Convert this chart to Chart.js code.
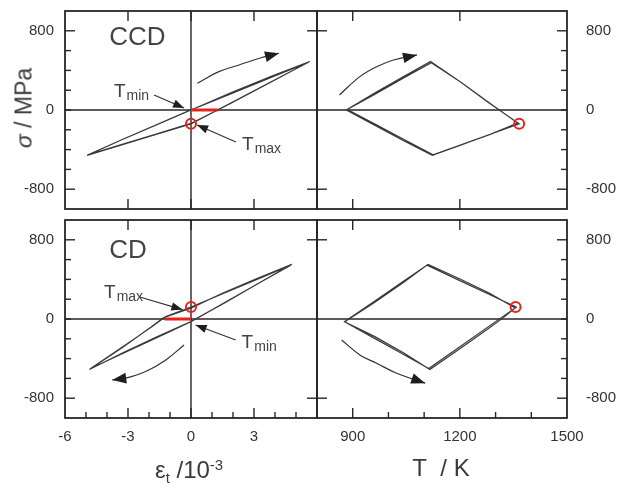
<!DOCTYPE html>
<html>
<head>
<meta charset="utf-8">
<title>CCD / CD hysteresis</title>
<script src="https://cdn.jsdelivr.net/npm/chart.js@4.4.1/dist/chart.umd.min.js"></script>
<style>
  body { margin: 0; background: #fff; }
  #wrap { position: relative; width: 620px; height: 488px; overflow: hidden; }
  #wrap canvas { position: absolute; left: 0; top: 0; }
  .title {
    position: absolute; white-space: nowrap; line-height: 1;
    font-family: "Liberation Sans", Arial, sans-serif; color: #3a3a3a;
    transform: translate(-50%, -50%);
  }
  .title sub { font-size: 0.62em; vertical-align: -0.35em; }
  .title sup { font-size: 0.62em; vertical-align: 0.55em; }
</style>
</head>
<body>
<div id="wrap">
  <canvas id="tl" width="620" height="488"></canvas>
  <canvas id="tr" width="620" height="488"></canvas>
  <canvas id="bl" width="620" height="488"></canvas>
  <canvas id="br" width="620" height="488"></canvas>
  <div class="title" style="left:24px;top:108px;font-size:23px;transform:translate(-50%,-50%) rotate(-90deg)"><i>σ</i> / MPa</div>
  <div class="title" style="left:189px;top:472px;font-size:24px">ε<sub>t</sub> /10<sup>-3</sup></div>
  <div class="title" style="left:441px;top:468px;font-size:24px">T&nbsp; / K</div>
</div>

<script>
// tick labels
const sigTicks = [-800, 0, 800];
const epsTicks = [-6, -3, 0, 3];
const tempTicks = [900, 1200, 1500];

// CCD (top row): temperature, total strain, stress -- two cycles
const ccdT   = [882, 960, 1040, 1120, 1200, 1280, 1366, 1280, 1200, 1123, 1040, 960, 882,
                965, 1045, 1118, 1205, 1285, 1362, 1285, 1205, 1125, 1045, 965, 885];
const ccdEps = [0, 1.80, 3.70, 5.55, 3.84, 1.94, 0, -1.74, -3.38, -4.95, -3.35, -1.65, 0,
                1.95, 3.85, 5.65, 3.75, 1.88, 0.04, -1.70, -3.32, -4.90, -3.30, -1.62, 0.02];
const ccdSig = [0, 155, 318, 478, 287, 76, -140, -252, -357, -458, -305, -150, 0,
                178, 342, 490, 276, 66, -132, -246, -350, -452, -300, -146, 4];

// CD (bottom row)
const cdT   = [877, 960, 1040, 1113, 1200, 1280, 1320, 1358, 1280, 1200, 1108, 1040, 960, 877,
               962, 1042, 1116, 1203, 1283, 1322, 1355, 1282, 1202, 1111, 1042, 962, 880];
const cdEps = [0, -1.68, -3.30, -4.78, -3.25, -1.85, -1.20, 0, 1.48, 3.00, 4.75, 3.35, 1.71, 0,
               -1.60, -3.22, -4.84, -3.30, -1.95, -1.30, 0.02, 1.52, 3.05, 4.80, 3.28, 1.64, 0.02];
const cdSig = [-27, -193, -354, -500, -280, -77, 24, 120, 252, 388, 544, 376, 178, -27,
               -178, -340, -510, -292, -88, 14, 112, 262, 402, 552, 368, 168, -22];

// Tmax markers and zero-stress strain offsets
const ccdTmax = {T: 1366, eps: 0, sig: -140};
const cdTmax  = {T: 1356, eps: 0, sig: 122};
const ccdOffsetEps = [0, 1.3];
const cdOffsetEps  = [-1.25, 0];

// direction arrows (curved)
const ccdArrowEps = [0.30, 1.30, 2.29, 3.30, 4.19];
const ccdArrowSig = [270, 385, 455, 525, 573];
const ccdArrowT   = [863, 920, 967, 1014, 1080];
const ccdArrowTS  = [152, 337, 437, 505, 556];
const cdArrowEps  = [-0.33, -1.20, -2.16, -3.11, -3.75];
const cdArrowSig  = [-262, -413, -531, -598, -615];
const cdArrowT    = [869, 920, 967, 1023, 1103];
const cdArrowTS   = [-212, -363, -447, -548, -648];

// Tmin / Tmax pointers
const ccdMinPtr = {x: [-1.76, -0.33], y: [152, 20]};
const ccdMaxPtr = {x: [2.14, 0.29], y: [-323, -152]};
const cdMaxPtr  = {x: [-2.48, -0.41], y: [225, 95]};
const cdMinPtr  = {x: [2.13, 0.22], y: [-212, -60]};

const INK = '#3a3a3a';
const RED = '#e3231c';
const FONT = '"Liberation Sans", Arial, sans-serif';

function pts(xs, ys) {
  return xs.map((v, i) => ({x: v, y: ys[i]}));
}
function loop(xs, ys) {
  return {data: pts(xs, ys), showLine: true, borderColor: INK, borderWidth: 1.2, pointRadius: 0, tension: 0};
}
function arrow(xs, ys, size, tension) {
  return {data: pts(xs, ys), showLine: true, borderColor: '#333', borderWidth: 1.2, pointRadius: 0,
          tension: tension, arrow: size};
}
function redCircle(x, y) {
  return {data: [{x: x, y: y}], showLine: false, pointRadius: 5, pointBorderWidth: 2,
          pointBorderColor: RED, pointBackgroundColor: 'transparent'};
}
function redBar(xs) {
  return {data: pts(xs, [0, 0]), showLine: true, borderColor: RED, borderWidth: 3, pointRadius: 0};
}

const frame = {
  id: 'frame',
  beforeDatasetsDraw(chart, args, o) {
    const {ctx, chartArea: a, scales: {x, y}} = chart;
    const seg = (x1, y1, x2, y2) => { ctx.beginPath(); ctx.moveTo(x1, y1); ctx.lineTo(x2, y2); ctx.stroke(); };
    ctx.save();
    ctx.strokeStyle = '#262626';
    ctx.lineWidth = 1.4;
    const y0 = y.getPixelForValue(0);
    seg(a.left, y0, a.right, y0);
    if (o.xZero) {
      const x0 = x.getPixelForValue(0);
      seg(x0, a.top, x0, a.bottom);
    }
    // x ticks, inward
    for (let v = x.min; v <= x.max; v += o.xStep) {
      const px = x.getPixelForValue(v);
      if (px <= a.left + 1 || px >= a.right - 1) continue;
      if (o.xMajor.includes(v)) {
        seg(px, a.top, px, a.top + 10);
        seg(px, a.bottom, px, a.bottom - 10);
      } else if (o.xMinor) {
        seg(px, a.bottom, px, a.bottom - 6);
      }
    }
    // y ticks, inward; minor ones only on the labelled side
    for (let v = -1000; v <= 1000; v += 200) {
      const py = y.getPixelForValue(v);
      if (py <= a.top + 1 || py >= a.bottom - 1) continue;
      const major = Math.abs(v) === 800;
      const len = major ? 10 : 6;
      if (o.ySide === 'left') {
        seg(a.left, py, a.left + len, py);
        if (major) seg(a.right, py, a.right - 10, py);
      } else {
        seg(a.right, py, a.right - len, py);
        if (major) seg(a.left, py, a.left + 10, py);
      }
    }
    ctx.lineWidth = 1.8;
    ctx.strokeRect(a.left, a.top, a.right - a.left, a.bottom - a.top);
    ctx.restore();
  },
  afterDatasetsDraw(chart, args, o) {
    const {ctx, scales: {x, y}} = chart;
    ctx.save();
    chart.data.datasets.forEach((ds, i) => {
      if (!ds.arrow) return;
      const el = chart.getDatasetMeta(i).data;
      const p = el[el.length - 1], q = el[el.length - 2];
      const ang = Math.atan2(p.y - q.y, p.x - q.x);
      const L = ds.arrow, W = ds.arrow * 0.38;
      ctx.save();
      ctx.translate(p.x, p.y);
      ctx.rotate(ang);
      ctx.beginPath();
      ctx.moveTo(0, 0);
      ctx.lineTo(-L, -W);
      ctx.lineTo(-L, W);
      ctx.closePath();
      ctx.fillStyle = '#1e1e1e';
      ctx.fill();
      ctx.restore();
    });
    ctx.fillStyle = '#444';
    ctx.textBaseline = 'alphabetic';
    (o.labels || []).forEach(l => {
      const px = x.getPixelForValue(l.x), py = y.getPixelForValue(l.y);
      ctx.font = l.size + 'px ' + FONT;
      ctx.textAlign = l.align || 'left';
      ctx.fillText(l.text, px, py);
      if (l.sub) {
        const w = ctx.measureText(l.text).width;
        ctx.font = l.subSize + 'px ' + FONT;
        ctx.textAlign = 'left';
        ctx.fillText(l.sub, px + w + 1, py + 3);
      }
    });
    ctx.restore();
  }
};

function makePanel(id, p) {
  const tickFont = {family: FONT, size: 15};
  const left = p.deco.ySide === 'left';
  return new Chart(document.getElementById(id), {
    type: 'scatter',
    data: {datasets: p.datasets},
    options: {
      responsive: false,
      animation: false,
      events: [],
      layout: {padding: p.pad},
      plugins: {legend: {display: false}, tooltip: {enabled: false}, frame: p.deco},
      scales: {
        x: {
          type: 'linear', position: 'bottom', min: p.xMin, max: p.xMax,
          grid: {display: false, drawTicks: false, tickLength: 0}, border: {display: false},
          ticks: {display: p.xLabels.length > 0, font: tickFont, color: '#333', padding: 10, maxRotation: 0,
                  callback: v => String(v)},
          afterBuildTicks: s => { s.ticks = p.xLabels.map(v => ({value: v})); },
          afterFit: s => { s.height = 40; }
        },
        y: {
          type: 'linear', position: p.deco.ySide, min: -1000, max: 1000,
          grid: {display: false, drawTicks: false, tickLength: 0}, border: {display: false},
          ticks: {font: tickFont, color: '#333', padding: left ? 11 : 19, callback: v => String(v)},
          afterBuildTicks: s => { s.ticks = sigTicks.map(v => ({value: v})); },
          afterFit: s => {
            s.width = left ? 55 : 53;
            s.paddingTop = 0;
            s.paddingBottom = 0;
          }
        }
      }
    },
    plugins: [frame]
  });
}

makePanel('tl', {
  pad: {left: 10, top: 11, right: 303, bottom: 239},
  xMin: -6, xMax: 6, xLabels: [],
  deco: {ySide: 'left', xStep: 1, xMajor: [-3, 0, 3], xZero: true, xMinor: false,
    labels: [
      {text: 'CCD', x: -2.55, y: 657, size: 26, align: 'center'},
      {text: 'T', sub: 'min', x: -3.67, y: 131, size: 19, subSize: 14},
      {text: 'T', sub: 'max', x: 2.43, y: -404, size: 19, subSize: 14}
    ]},
  datasets: [
    redCircle(ccdTmax.eps, ccdTmax.sig),
    redBar(ccdOffsetEps),
    loop(ccdEps, ccdSig),
    arrow(ccdArrowEps, ccdArrowSig, 14, 0.4),
    arrow(ccdMinPtr.x, ccdMinPtr.y, 11, 0),
    arrow(ccdMaxPtr.x, ccdMaxPtr.y, 11, 0)
  ]
});

makePanel('tr', {
  pad: {left: 317, top: 11, right: 0, bottom: 239},
  xMin: 800, xMax: 1500, xLabels: [],
  deco: {ySide: 'right', xStep: 100, xMajor: [900, 1200, 1500], xZero: false, xMinor: false},
  datasets: [
    redCircle(ccdTmax.T, ccdTmax.sig),
    loop(ccdT, ccdSig),
    arrow(ccdArrowT, ccdArrowTS, 14, 0.4)
  ]
});

makePanel('bl', {
  pad: {left: 10, top: 220, right: 303, bottom: 30},
  xMin: -6, xMax: 6, xLabels: epsTicks,
  deco: {ySide: 'left', xStep: 1, xMajor: [-3, 0, 3], xZero: true, xMinor: true,
    labels: [
      {text: 'CD', x: -3.0, y: 615, size: 26, align: 'center'},
      {text: 'T', sub: 'max', x: -4.14, y: 212, size: 19, subSize: 14},
      {text: 'T', sub: 'min', x: 2.41, y: -295, size: 19, subSize: 14}
    ]},
  datasets: [
    redCircle(cdTmax.eps, cdTmax.sig),
    redBar(cdOffsetEps),
    loop(cdEps, cdSig),
    arrow(cdArrowEps, cdArrowSig, 14, 0.4),
    arrow(cdMaxPtr.x, cdMaxPtr.y, 11, 0),
    arrow(cdMinPtr.x, cdMinPtr.y, 11, 0)
  ]
});

makePanel('br', {
  pad: {left: 317, top: 220, right: 0, bottom: 30},
  xMin: 800, xMax: 1500, xLabels: tempTicks,
  deco: {ySide: 'right', xStep: 100, xMajor: [900, 1200, 1500], xZero: false, xMinor: true},
  datasets: [
    redCircle(cdTmax.T, cdTmax.sig),
    loop(cdT, cdSig),
    arrow(cdArrowT, cdArrowTS, 14, 0.4)
  ]
});
</script>
</body>
</html>
